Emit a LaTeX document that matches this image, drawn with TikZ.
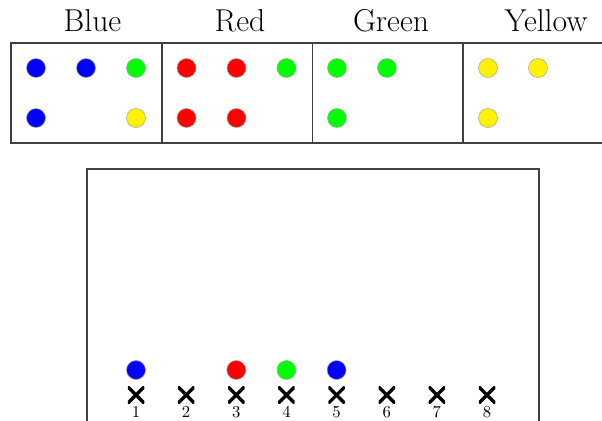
\documentclass[tikz,border=0pt]{standalone}
\usetikzlibrary{calc}
\begin{document}
\begin{tikzpicture}[x=1cm,y=1cm,
  frame/.style={draw=black!75, line width=0.85pt},
  dot/.style={circle, minimum size=0.38cm, inner sep=0pt, draw=black!35, line width=0.3pt},
  bdot/.style={dot, fill=blue},
  rdot/.style={dot, fill=red},
  gdot/.style={dot, fill=green},
  ydot/.style={dot, fill=yellow},
  cross/.style={inner sep=0pt, minimum size=0.33cm, path picture={
      \draw[line width=1.9pt] (path picture bounding box.south west) -- (path picture bounding box.north east)
        (path picture bounding box.north west) -- (path picture bounding box.south east);}},
  head/.style={font=\fontsize{18}{22}\selectfont},
  num/.style={font=\fontsize{9.5}{11}\selectfont, inner sep=0pt}
]
\useasboundingbox (0,0) rectangle (12.04,-8.4);
\clip (0,0) rectangle (12.04,-8.4);
% top box
\draw[frame] (0.22,-0.86) rectangle (12.3,-2.86);
\draw[frame] (3.24,-0.86) -- (3.24,-2.86);
\draw[frame] (6.25,-0.86) -- (6.25,-2.86);
\draw[frame] (9.26,-0.86) -- (9.26,-2.86);
% headers
\node[head] (hb) at (1.85,-0.42) {Blue};
\node[head] (hr) at (4.8,-0.42) {Red};
\node[head] (hg) at (7.82,-0.42) {Green};
\node[head] (hy) at (10.92,-0.42) {Yellow};
% blue column
\node[bdot] (b1) at (0.72,-1.36) {};
\node[bdot] (b2) at (1.72,-1.36) {};
\node[gdot] (b3) at (2.72,-1.36) {};
\node[bdot] (b4) at (0.72,-2.36) {};
\node[ydot] (b5) at (2.72,-2.36) {};
% red column
\node[rdot] (r1) at (3.73,-1.36) {};
\node[rdot] (r2) at (4.73,-1.36) {};
\node[gdot] (r3) at (5.73,-1.36) {};
\node[rdot] (r4) at (3.73,-2.36) {};
\node[rdot] (r5) at (4.73,-2.36) {};
% green column
\node[gdot] (g1) at (6.74,-1.36) {};
\node[gdot] (g2) at (7.74,-1.36) {};
\node[gdot] (g3) at (6.74,-2.36) {};
% yellow column
\node[ydot] (y1) at (9.76,-1.36) {};
\node[ydot] (y2) at (10.76,-1.36) {};
\node[ydot] (y3) at (9.76,-2.36) {};
% bottom box
\draw[frame] (1.74,-9) -- (1.74,-3.38) -- (10.78,-3.38) -- (10.78,-9);
% slots
\foreach \i in {1,...,8} {
  \node[cross] (x\i) at ({2.72+(\i-1)*1.003},-7.9) {};
  \node[num, anchor=north] (n\i) at ($(x\i.south)+(0,-0.05)$) {\i};
}
\node[bdot] (s1) at (2.72,-7.4) {};
\node[rdot] (s3) at (4.726,-7.4) {};
\node[gdot] (s4) at (5.729,-7.4) {};
\node[bdot] (s5) at (6.732,-7.4) {};
\end{tikzpicture}
\end{document}
